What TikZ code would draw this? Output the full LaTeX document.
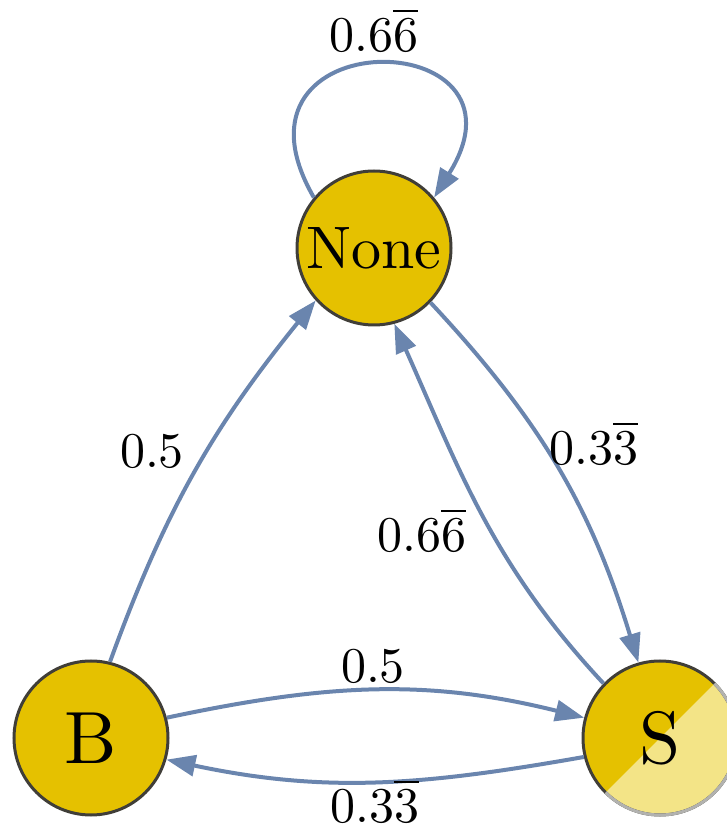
\documentclass[tikz,border=0pt]{standalone}
\usepackage{graphicx}
\usetikzlibrary{arrows.meta}
\definecolor{statefill}{RGB}{229,193,0}
\definecolor{statelight}{RGB}{243,228,135}
\definecolor{stateborder}{RGB}{64,62,56}
\definecolor{edgecol}{RGB}{106,133,174}
\newcommand\repbar[1]{\setbox0\hbox{#1}\rlap{\rule[\dimexpr\ht0+0.13em\relax]{\wd0}{0.045em}}\box0}
\begin{document}
\begin{tikzpicture}[x=1pt,y=1pt,
  state/.style={circle, draw=stateborder, line width=3pt, fill=statefill,
    minimum size=154pt, inner sep=0pt, text=black},
  edge/.style={draw=edgecol, line width=4pt, -{Triangle[length=29pt,width=21pt]}},
  lbl/.style={anchor=base, inner sep=0pt}]
\useasboundingbox (0,0) rectangle (727,831);
\clip (0,0) rectangle (727,831);
% states
\node[state] (N) at (374,583) {\scalebox{6}{None}};
\node[state] (B) at (91,93) {\scalebox{7.4}{B}};
\node[state,
  path picture={\fill[statelight] (path picture bounding box.north east) --
    (path picture bounding box.south west) -- (path picture bounding box.south east) -- cycle;}]
  (S) at (660,93) {\scalebox{7.4}{S}};
\draw[stateborder!40, line width=3pt] (S.center) ++(45:77) arc[start angle=45, end angle=-135, radius=77];
% transitions
\draw[edge] (B.76) to[out=70,in=231] (N.222);
\draw[edge] (N.-44) to[out=-47,in=107] (S.106);
\draw[edge] (S.136) to[out=133,in=-66] (N.-75);
\draw[edge] (B.15) to[out=12,in=166] (S.165);
\draw[edge] (S.194) to[out=190,in=-12] (B.-16);
\draw[edge] (N.140) to[out=120,in=58,looseness=4.4] (N.40);
% labels
\node[lbl] (l1) at (152,363) {\scalebox{5}{0.5}};
\node[lbl] (l2) at (594,366) {\scalebox{5}{0.3\repbar{3}}};
\node[lbl] (l3) at (373,148) {\scalebox{5}{0.5}};
\node[lbl] (l4) at (375,8) {\scalebox{5}{0.3\repbar{3}}};
\node[lbl] (l5) at (422,279) {\scalebox{5}{0.6\repbar{6}}};
\node[lbl] (l6) at (374,779) {\scalebox{5}{0.6\repbar{6}}};
\end{tikzpicture}
\end{document}
